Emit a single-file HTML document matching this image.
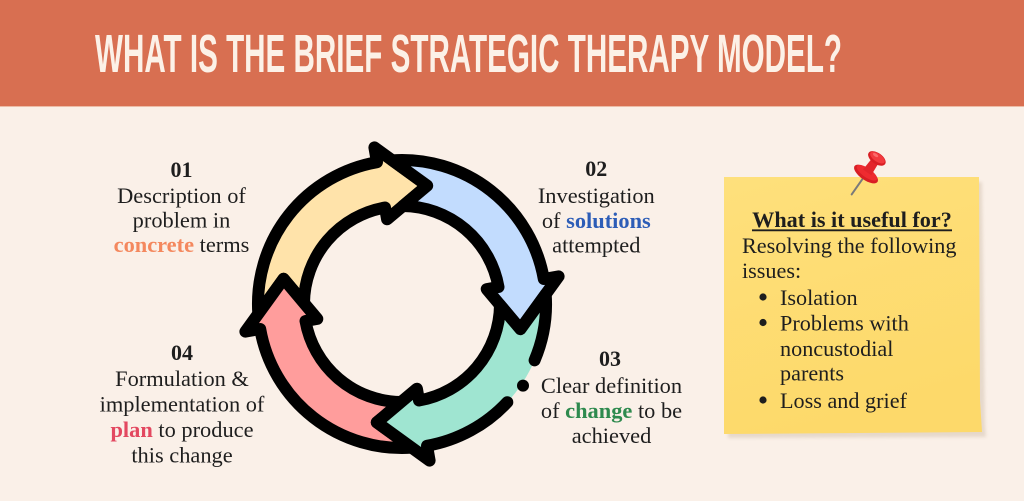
<!DOCTYPE html>
<html>
<head>
<meta charset="utf-8">
<style>
  html,body{margin:0;padding:0;background:#FAF0E8;}
  svg{display:block;}
</style>
</head>
<body>
<svg width="1024" height="501" viewBox="0 0 1024 501" xmlns="http://www.w3.org/2000/svg">
  <defs>
    <linearGradient id="note" x1="0" y1="0" x2="0.3" y2="1">
      <stop offset="0" stop-color="#FEE07C"/>
      <stop offset="1" stop-color="#FDD96A"/>
    </linearGradient>
    <filter id="sh" x="-10%" y="-10%" width="130%" height="130%">
      <feGaussianBlur stdDeviation="1.5"/>
    </filter>
  </defs>

  <!-- background -->
  <rect x="0" y="0" width="1024" height="501" fill="#FAF0E8"/>
  <!-- header -->
  <rect x="0" y="0" width="1024" height="106" fill="#D86F51"/>
  <rect x="0" y="106" width="1024" height="1" fill="#EDBBA5"/>
  <text x="95" y="72" font-family="'Liberation Sans Narrow','Liberation Sans',sans-serif" font-weight="bold" font-size="54" textLength="747" lengthAdjust="spacingAndGlyphs" fill="#FCF1E7">WHAT IS THE BRIEF STRATEGIC THERAPY MODEL?</text>

  <!-- cycle -->
  <g transform="translate(402,304)" stroke="#000" stroke-width="12" stroke-linejoin="round" stroke-linecap="round">
    <!-- yellow -->
    <path d="M-98,-0.94 L-118.4,-25.2 L-143.7,9.75 A144,144 0 0,1 -25,-141.8 L-27.6,-156.6 L25.2,-118.4 L-14.9,-84.7 L-17,-96.5 A98,98 0 0,0 -98,-0.94 Z" fill="#FFE3AA"/>
    <!-- blue -->
    <g transform="rotate(90)">
      <path d="M-98,-0.94 L-118.4,-25.2 L-143.7,9.75 A144,144 0 0,1 -25,-141.8 L-27.6,-156.6 L25.2,-118.4 L-14.9,-84.7 L-17,-96.5 A98,98 0 0,0 -98,-0.94 Z" fill="#C2DCFE"/>
    </g>
    <!-- red -->
    <g transform="rotate(270)">
      <path d="M-98,-0.94 L-118.4,-25.2 L-143.7,9.75 A144,144 0 0,1 -25,-141.8 L-27.6,-156.6 L25.2,-118.4 L-14.9,-84.7 L-17,-96.5 A98,98 0 0,0 -98,-0.94 Z" fill="#FF9D9C"/>
    </g>
    <!-- green with gap -->
    <g transform="rotate(180)">
      <path d="M-98,-0.94 L-118.4,-25.2 L-143.7,9.75 A144,144 0 0,1 -25,-141.8 L-27.6,-156.6 L25.2,-118.4 L-14.9,-84.7 L-17,-96.5 A98,98 0 0,0 -98,-0.94 Z" fill="#9FE5D1" stroke="none"/>
      <path d="M-105.3,-98.2 A144,144 0 0,1 -25,-141.8 L-27.6,-156.6 L25.2,-118.4 L-14.9,-84.7 L-17,-96.5 A98,98 0 0,0 -98,-0.94 L-118.4,-25.2 L-143.7,9.75 A144,144 0 0,1 -132.6,-56.3" fill="none"/>
      <circle cx="-121" cy="-81.6" r="6" fill="#000" stroke="none"/>
    </g>
  </g>

  <!-- text blocks -->
  <g font-family="'Liberation Serif',serif" font-size="22.4" fill="#1E1E1E" text-anchor="middle">
    <text x="181.5" y="177" font-weight="bold" font-size="22">01</text>
    <text x="181.5" y="203">Description of</text>
    <text x="181.5" y="227.5">problem in</text>
    <text x="181.5" y="252"><tspan fill="#F4885E" font-weight="bold">concrete</tspan> terms</text>

    <text x="596.3" y="176" font-weight="bold" font-size="22">02</text>
    <text x="596.3" y="203">Investigation</text>
    <text x="596.3" y="228">of <tspan fill="#2D5DB7" font-weight="bold">solutions</tspan></text>
    <text x="596.3" y="252.5">attempted</text>

    <text x="610" y="366" font-weight="bold" font-size="22">03</text>
    <text x="611.5" y="393">Clear definition</text>
    <text x="611.5" y="418">of <tspan fill="#2E8A4E" font-weight="bold">change</tspan> to be</text>
    <text x="611.5" y="443">achieved</text>

    <text x="182" y="360" font-weight="bold" font-size="22">04</text>
    <text x="182" y="386">Formulation &amp;</text>
    <text x="182" y="411.5">implementation of</text>
    <text x="182" y="437"><tspan fill="#E34860" font-weight="bold">plan</tspan> to produce</text>
    <text x="182" y="462.5">this change</text>
  </g>

  <!-- sticky note -->
  <polygon points="727,182 982,182 985,425 986,437 728,438" fill="#D9C9B8" opacity="0.6" filter="url(#sh)"/>
  <polygon points="724,177 979,177 980,400 982,432 724,434" fill="url(#note)"/>

  <g font-family="'Liberation Serif',serif" font-size="22.2" fill="#1E1E1E">
    <text x="852" y="227" text-anchor="middle" font-weight="bold">What is it useful for?</text>
    <line x1="752" y1="230.3" x2="952" y2="230.3" stroke="#1E1E1E" stroke-width="1.8"/>
    <text x="742" y="253">Resolving the following</text>
    <text x="742" y="278">issues:</text>
    <circle cx="763" cy="297" r="3.6"/>
    <text x="780" y="305">Isolation</text>
    <circle cx="763" cy="322.5" r="3.6"/>
    <text x="780" y="330.5">Problems with</text>
    <text x="780" y="356">noncustodial</text>
    <text x="780" y="380.5">parents</text>
    <circle cx="763" cy="400" r="3.6"/>
    <text x="780" y="408">Loss and grief</text>
  </g>

  <!-- push pin -->
  <g transform="translate(866,174) rotate(35)">
    <line x1="0" y1="3" x2="0" y2="25" stroke="#7A7A7A" stroke-width="2" stroke-linecap="round"/>
    <ellipse cx="0" cy="0" rx="14" ry="6" fill="#D81E24"/>
    <ellipse cx="0" cy="-1.5" rx="12" ry="4.5" fill="#EE2B30"/>
    <polygon points="-5,-2 5,-2 4,-17 -4,-17" fill="#E3252B"/>
    <ellipse cx="0" cy="-19" rx="10" ry="5.5" fill="#D81E24"/>
    <ellipse cx="0" cy="-20" rx="8.5" ry="4" fill="#F23A3E"/>
    <ellipse cx="-3" cy="-21" rx="3" ry="1.5" fill="#FF8080" opacity="0.7"/>
  </g>
</svg>
</body>
</html>
